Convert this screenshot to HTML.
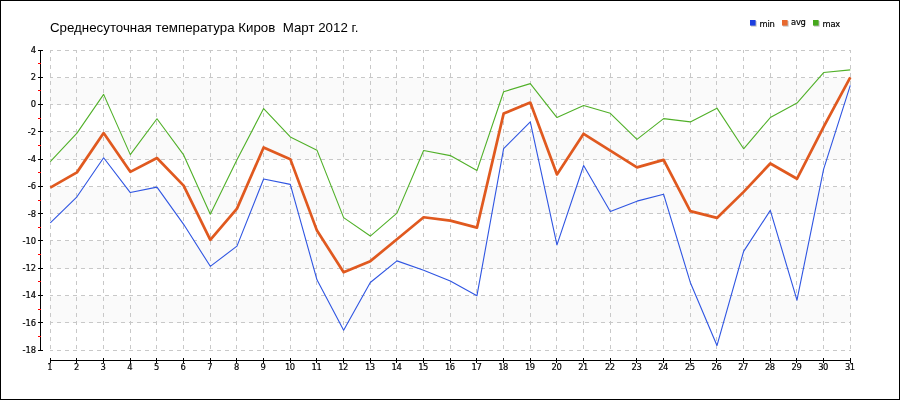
<!DOCTYPE html>
<html lang="ru"><head><meta charset="utf-8"><title>Среднесуточная температура Киров Март 2012 г.</title>
<style>
html,body{margin:0;padding:0;background:#fff;}
body{width:900px;height:400px;overflow:hidden;}
svg{display:block;}
.ax{font-family:"DejaVu Sans Condensed","Liberation Sans",sans-serif;font-size:9.3px;fill:#000;stroke:#000;stroke-width:0.18px;}
.lg{letter-spacing:-0.25px;}
.xl{letter-spacing:-0.5px;}
.ttl{font-family:"Liberation Sans",sans-serif;font-size:13.3px;fill:#000;}
</style></head><body>
<svg width="900" height="400" viewBox="0 0 900 400">
<rect x="0" y="0" width="900" height="400" fill="#fff"/>
<rect x="0.5" y="0.5" width="899" height="399" fill="none" stroke="#000" stroke-width="1" shape-rendering="crispEdges"/>
<text class="ttl" x="50" y="32.3" xml:space="preserve">Среднесуточная температура Киров  Март 2012 г.</text>
<g shape-rendering="crispEdges">
<rect x="50" y="78" width="801" height="27" fill="#fafafa"/>
<rect x="50" y="132" width="801" height="28" fill="#fafafa"/>
<rect x="50" y="187" width="801" height="27" fill="#fafafa"/>
<rect x="50" y="241" width="801" height="28" fill="#fafafa"/>
<rect x="50" y="296" width="801" height="27" fill="#fafafa"/>
<line x1="50" y1="50.5" x2="851" y2="50.5" stroke="#c8c8c8" stroke-width="1" stroke-dasharray="4 4" stroke-dashoffset="1"/>
<line x1="50" y1="77.5" x2="851" y2="77.5" stroke="#c8c8c8" stroke-width="1" stroke-dasharray="4 4" stroke-dashoffset="1"/>
<line x1="50" y1="104.5" x2="851" y2="104.5" stroke="#c8c8c8" stroke-width="1" stroke-dasharray="4 4" stroke-dashoffset="1"/>
<line x1="50" y1="131.5" x2="851" y2="131.5" stroke="#c8c8c8" stroke-width="1" stroke-dasharray="4 4" stroke-dashoffset="1"/>
<line x1="50" y1="159.5" x2="851" y2="159.5" stroke="#c8c8c8" stroke-width="1" stroke-dasharray="4 4" stroke-dashoffset="1"/>
<line x1="50" y1="186.5" x2="851" y2="186.5" stroke="#c8c8c8" stroke-width="1" stroke-dasharray="4 4" stroke-dashoffset="1"/>
<line x1="50" y1="213.5" x2="851" y2="213.5" stroke="#c8c8c8" stroke-width="1" stroke-dasharray="4 4" stroke-dashoffset="1"/>
<line x1="50" y1="240.5" x2="851" y2="240.5" stroke="#c8c8c8" stroke-width="1" stroke-dasharray="4 4" stroke-dashoffset="1"/>
<line x1="50" y1="268.5" x2="851" y2="268.5" stroke="#c8c8c8" stroke-width="1" stroke-dasharray="4 4" stroke-dashoffset="1"/>
<line x1="50" y1="295.5" x2="851" y2="295.5" stroke="#c8c8c8" stroke-width="1" stroke-dasharray="4 4" stroke-dashoffset="1"/>
<line x1="50" y1="322.5" x2="851" y2="322.5" stroke="#c8c8c8" stroke-width="1" stroke-dasharray="4 4" stroke-dashoffset="1"/>
<line x1="50" y1="350.5" x2="851" y2="350.5" stroke="#c8c8c8" stroke-width="1" stroke-dasharray="4 4" stroke-dashoffset="1"/>
<line x1="50.5" y1="50" x2="50.5" y2="351" stroke="#c8c8c8" stroke-width="1" stroke-dasharray="4 4" stroke-dashoffset="1"/>
<line x1="76.5" y1="50" x2="76.5" y2="351" stroke="#c8c8c8" stroke-width="1" stroke-dasharray="4 4" stroke-dashoffset="1"/>
<line x1="103.5" y1="50" x2="103.5" y2="351" stroke="#c8c8c8" stroke-width="1" stroke-dasharray="4 4" stroke-dashoffset="1"/>
<line x1="130.5" y1="50" x2="130.5" y2="351" stroke="#c8c8c8" stroke-width="1" stroke-dasharray="4 4" stroke-dashoffset="1"/>
<line x1="156.5" y1="50" x2="156.5" y2="351" stroke="#c8c8c8" stroke-width="1" stroke-dasharray="4 4" stroke-dashoffset="1"/>
<line x1="183.5" y1="50" x2="183.5" y2="351" stroke="#c8c8c8" stroke-width="1" stroke-dasharray="4 4" stroke-dashoffset="1"/>
<line x1="210.5" y1="50" x2="210.5" y2="351" stroke="#c8c8c8" stroke-width="1" stroke-dasharray="4 4" stroke-dashoffset="1"/>
<line x1="236.5" y1="50" x2="236.5" y2="351" stroke="#c8c8c8" stroke-width="1" stroke-dasharray="4 4" stroke-dashoffset="1"/>
<line x1="263.5" y1="50" x2="263.5" y2="351" stroke="#c8c8c8" stroke-width="1" stroke-dasharray="4 4" stroke-dashoffset="1"/>
<line x1="290.5" y1="50" x2="290.5" y2="351" stroke="#c8c8c8" stroke-width="1" stroke-dasharray="4 4" stroke-dashoffset="1"/>
<line x1="316.5" y1="50" x2="316.5" y2="351" stroke="#c8c8c8" stroke-width="1" stroke-dasharray="4 4" stroke-dashoffset="1"/>
<line x1="343.5" y1="50" x2="343.5" y2="351" stroke="#c8c8c8" stroke-width="1" stroke-dasharray="4 4" stroke-dashoffset="1"/>
<line x1="370.5" y1="50" x2="370.5" y2="351" stroke="#c8c8c8" stroke-width="1" stroke-dasharray="4 4" stroke-dashoffset="1"/>
<line x1="396.5" y1="50" x2="396.5" y2="351" stroke="#c8c8c8" stroke-width="1" stroke-dasharray="4 4" stroke-dashoffset="1"/>
<line x1="423.5" y1="50" x2="423.5" y2="351" stroke="#c8c8c8" stroke-width="1" stroke-dasharray="4 4" stroke-dashoffset="1"/>
<line x1="450.5" y1="50" x2="450.5" y2="351" stroke="#c8c8c8" stroke-width="1" stroke-dasharray="4 4" stroke-dashoffset="1"/>
<line x1="476.5" y1="50" x2="476.5" y2="351" stroke="#c8c8c8" stroke-width="1" stroke-dasharray="4 4" stroke-dashoffset="1"/>
<line x1="503.5" y1="50" x2="503.5" y2="351" stroke="#c8c8c8" stroke-width="1" stroke-dasharray="4 4" stroke-dashoffset="1"/>
<line x1="530.5" y1="50" x2="530.5" y2="351" stroke="#c8c8c8" stroke-width="1" stroke-dasharray="4 4" stroke-dashoffset="1"/>
<line x1="556.5" y1="50" x2="556.5" y2="351" stroke="#c8c8c8" stroke-width="1" stroke-dasharray="4 4" stroke-dashoffset="1"/>
<line x1="583.5" y1="50" x2="583.5" y2="351" stroke="#c8c8c8" stroke-width="1" stroke-dasharray="4 4" stroke-dashoffset="1"/>
<line x1="610.5" y1="50" x2="610.5" y2="351" stroke="#c8c8c8" stroke-width="1" stroke-dasharray="4 4" stroke-dashoffset="1"/>
<line x1="636.5" y1="50" x2="636.5" y2="351" stroke="#c8c8c8" stroke-width="1" stroke-dasharray="4 4" stroke-dashoffset="1"/>
<line x1="663.5" y1="50" x2="663.5" y2="351" stroke="#c8c8c8" stroke-width="1" stroke-dasharray="4 4" stroke-dashoffset="1"/>
<line x1="690.5" y1="50" x2="690.5" y2="351" stroke="#c8c8c8" stroke-width="1" stroke-dasharray="4 4" stroke-dashoffset="1"/>
<line x1="716.5" y1="50" x2="716.5" y2="351" stroke="#c8c8c8" stroke-width="1" stroke-dasharray="4 4" stroke-dashoffset="1"/>
<line x1="743.5" y1="50" x2="743.5" y2="351" stroke="#c8c8c8" stroke-width="1" stroke-dasharray="4 4" stroke-dashoffset="1"/>
<line x1="770.5" y1="50" x2="770.5" y2="351" stroke="#c8c8c8" stroke-width="1" stroke-dasharray="4 4" stroke-dashoffset="1"/>
<line x1="796.5" y1="50" x2="796.5" y2="351" stroke="#c8c8c8" stroke-width="1" stroke-dasharray="4 4" stroke-dashoffset="1"/>
<line x1="823.5" y1="50" x2="823.5" y2="351" stroke="#c8c8c8" stroke-width="1" stroke-dasharray="4 4" stroke-dashoffset="1"/>
<line x1="850.5" y1="50" x2="850.5" y2="351" stroke="#c8c8c8" stroke-width="1" stroke-dasharray="4 4" stroke-dashoffset="1"/>
<line x1="40.5" y1="50" x2="40.5" y2="351" stroke="#000"/>
<line x1="50" y1="360.5" x2="851" y2="360.5" stroke="#000"/>
<line x1="38" y1="50.5" x2="43" y2="50.5" stroke="#000"/>
<line x1="38" y1="63.5" x2="41" y2="63.5" stroke="#f00"/>
<line x1="38" y1="77.5" x2="43" y2="77.5" stroke="#000"/>
<line x1="38" y1="90.5" x2="41" y2="90.5" stroke="#f00"/>
<line x1="38" y1="104.5" x2="43" y2="104.5" stroke="#000"/>
<line x1="38" y1="118.5" x2="41" y2="118.5" stroke="#f00"/>
<line x1="38" y1="131.5" x2="43" y2="131.5" stroke="#000"/>
<line x1="38" y1="145.5" x2="41" y2="145.5" stroke="#f00"/>
<line x1="38" y1="159.5" x2="43" y2="159.5" stroke="#000"/>
<line x1="38" y1="172.5" x2="41" y2="172.5" stroke="#f00"/>
<line x1="38" y1="186.5" x2="43" y2="186.5" stroke="#000"/>
<line x1="38" y1="200.5" x2="41" y2="200.5" stroke="#f00"/>
<line x1="38" y1="213.5" x2="43" y2="213.5" stroke="#000"/>
<line x1="38" y1="227.5" x2="41" y2="227.5" stroke="#f00"/>
<line x1="38" y1="240.5" x2="43" y2="240.5" stroke="#000"/>
<line x1="38" y1="254.5" x2="41" y2="254.5" stroke="#f00"/>
<line x1="38" y1="268.5" x2="43" y2="268.5" stroke="#000"/>
<line x1="38" y1="281.5" x2="41" y2="281.5" stroke="#f00"/>
<line x1="38" y1="295.5" x2="43" y2="295.5" stroke="#000"/>
<line x1="38" y1="309.5" x2="41" y2="309.5" stroke="#f00"/>
<line x1="38" y1="322.5" x2="43" y2="322.5" stroke="#000"/>
<line x1="38" y1="336.5" x2="41" y2="336.5" stroke="#f00"/>
<line x1="38" y1="350.5" x2="43" y2="350.5" stroke="#000"/>
<line x1="50.5" y1="358" x2="50.5" y2="363" stroke="#000"/>
<line x1="76.5" y1="358" x2="76.5" y2="363" stroke="#000"/>
<line x1="103.5" y1="358" x2="103.5" y2="363" stroke="#000"/>
<line x1="130.5" y1="358" x2="130.5" y2="363" stroke="#000"/>
<line x1="156.5" y1="358" x2="156.5" y2="363" stroke="#000"/>
<line x1="183.5" y1="358" x2="183.5" y2="363" stroke="#000"/>
<line x1="210.5" y1="358" x2="210.5" y2="363" stroke="#000"/>
<line x1="236.5" y1="358" x2="236.5" y2="363" stroke="#000"/>
<line x1="263.5" y1="358" x2="263.5" y2="363" stroke="#000"/>
<line x1="290.5" y1="358" x2="290.5" y2="363" stroke="#000"/>
<line x1="316.5" y1="358" x2="316.5" y2="363" stroke="#000"/>
<line x1="343.5" y1="358" x2="343.5" y2="363" stroke="#000"/>
<line x1="370.5" y1="358" x2="370.5" y2="363" stroke="#000"/>
<line x1="396.5" y1="358" x2="396.5" y2="363" stroke="#000"/>
<line x1="423.5" y1="358" x2="423.5" y2="363" stroke="#000"/>
<line x1="450.5" y1="358" x2="450.5" y2="363" stroke="#000"/>
<line x1="476.5" y1="358" x2="476.5" y2="363" stroke="#000"/>
<line x1="503.5" y1="358" x2="503.5" y2="363" stroke="#000"/>
<line x1="530.5" y1="358" x2="530.5" y2="363" stroke="#000"/>
<line x1="556.5" y1="358" x2="556.5" y2="363" stroke="#000"/>
<line x1="583.5" y1="358" x2="583.5" y2="363" stroke="#000"/>
<line x1="610.5" y1="358" x2="610.5" y2="363" stroke="#000"/>
<line x1="636.5" y1="358" x2="636.5" y2="363" stroke="#000"/>
<line x1="663.5" y1="358" x2="663.5" y2="363" stroke="#000"/>
<line x1="690.5" y1="358" x2="690.5" y2="363" stroke="#000"/>
<line x1="716.5" y1="358" x2="716.5" y2="363" stroke="#000"/>
<line x1="743.5" y1="358" x2="743.5" y2="363" stroke="#000"/>
<line x1="770.5" y1="358" x2="770.5" y2="363" stroke="#000"/>
<line x1="796.5" y1="358" x2="796.5" y2="363" stroke="#000"/>
<line x1="823.5" y1="358" x2="823.5" y2="363" stroke="#000"/>
<line x1="850.5" y1="358" x2="850.5" y2="363" stroke="#000"/>
</g>
<text class="ax" x="36.2" y="52.9" text-anchor="end">4</text>
<text class="ax" x="36.2" y="80.2" text-anchor="end">2</text>
<text class="ax" x="36.2" y="107.4" text-anchor="end">0</text>
<text class="ax" x="36.2" y="134.7" text-anchor="end">-2</text>
<text class="ax" x="36.2" y="162.0" text-anchor="end">-4</text>
<text class="ax" x="36.2" y="189.3" text-anchor="end">-6</text>
<text class="ax" x="36.2" y="216.5" text-anchor="end">-8</text>
<text class="ax" x="36.2" y="243.8" text-anchor="end">-10</text>
<text class="ax" x="36.2" y="271.1" text-anchor="end">-12</text>
<text class="ax" x="36.2" y="298.4" text-anchor="end">-14</text>
<text class="ax" x="36.2" y="325.6" text-anchor="end">-16</text>
<text class="ax" x="36.2" y="352.9" text-anchor="end">-18</text>
<text class="ax xl" x="49.7" y="369.7" text-anchor="middle">1</text>
<text class="ax xl" x="76.4" y="369.7" text-anchor="middle">2</text>
<text class="ax xl" x="103.0" y="369.7" text-anchor="middle">3</text>
<text class="ax xl" x="129.7" y="369.7" text-anchor="middle">4</text>
<text class="ax xl" x="156.4" y="369.7" text-anchor="middle">5</text>
<text class="ax xl" x="183.0" y="369.7" text-anchor="middle">6</text>
<text class="ax xl" x="209.7" y="369.7" text-anchor="middle">7</text>
<text class="ax xl" x="236.4" y="369.7" text-anchor="middle">8</text>
<text class="ax xl" x="263.0" y="369.7" text-anchor="middle">9</text>
<text class="ax xl" x="289.7" y="369.7" text-anchor="middle">10</text>
<text class="ax xl" x="316.4" y="369.7" text-anchor="middle">11</text>
<text class="ax xl" x="343.0" y="369.7" text-anchor="middle">12</text>
<text class="ax xl" x="369.7" y="369.7" text-anchor="middle">13</text>
<text class="ax xl" x="396.4" y="369.7" text-anchor="middle">14</text>
<text class="ax xl" x="423.0" y="369.7" text-anchor="middle">15</text>
<text class="ax xl" x="449.7" y="369.7" text-anchor="middle">16</text>
<text class="ax xl" x="476.4" y="369.7" text-anchor="middle">17</text>
<text class="ax xl" x="503.0" y="369.7" text-anchor="middle">18</text>
<text class="ax xl" x="529.7" y="369.7" text-anchor="middle">19</text>
<text class="ax xl" x="556.4" y="369.7" text-anchor="middle">20</text>
<text class="ax xl" x="583.0" y="369.7" text-anchor="middle">21</text>
<text class="ax xl" x="609.7" y="369.7" text-anchor="middle">22</text>
<text class="ax xl" x="636.4" y="369.7" text-anchor="middle">23</text>
<text class="ax xl" x="663.0" y="369.7" text-anchor="middle">24</text>
<text class="ax xl" x="689.7" y="369.7" text-anchor="middle">25</text>
<text class="ax xl" x="716.4" y="369.7" text-anchor="middle">26</text>
<text class="ax xl" x="743.0" y="369.7" text-anchor="middle">27</text>
<text class="ax xl" x="769.7" y="369.7" text-anchor="middle">28</text>
<text class="ax xl" x="796.4" y="369.7" text-anchor="middle">29</text>
<text class="ax xl" x="823.0" y="369.7" text-anchor="middle">30</text>
<text class="ax xl" x="849.7" y="369.7" text-anchor="middle">31</text>
<g fill="none" stroke-linejoin="round" stroke-linecap="butt" transform="translate(0.3,0.6)">
<polyline points="50.00,222.23 76.67,196.18 103.33,157.18 130.00,191.95 156.67,186.50 183.33,223.73 210.00,265.73 236.67,245.55 263.33,178.45 290.00,183.77 316.67,279.23 343.33,329.55 370.00,281.95 396.67,260.27 423.33,269.55 450.00,280.45 476.67,295.05 503.33,148.05 530.00,121.32 556.67,244.32 583.33,164.95 610.00,210.91 636.67,200.55 663.33,193.73 690.00,281.82 716.67,344.95 743.33,250.73 770.00,209.82 796.67,299.55 823.33,168.50 850.00,84.77" stroke="#2f55e2" stroke-width="1.1"/>
<polyline points="50.00,187.05 76.67,171.77 103.33,132.50 130.00,171.23 156.67,157.45 183.33,185.00 210.00,239.27 236.67,208.05 263.33,146.82 290.00,158.55 316.67,230.00 343.33,271.59 370.00,260.55 396.67,238.73 423.33,216.64 450.00,220.05 476.67,227.00 503.33,113.00 530.00,101.95 556.67,173.82 583.33,133.18 610.00,149.95 636.67,166.73 663.33,159.23 690.00,210.50 716.67,217.32 743.33,191.27 770.00,162.91 796.67,178.18 823.33,126.36 850.00,76.73" stroke="#e0591f" stroke-width="2.7"/>
<polyline points="50.00,161.14 76.67,132.50 103.33,93.77 130.00,154.05 156.67,118.18 183.33,154.32 210.00,213.64 236.67,159.09 263.33,107.95 290.00,136.32 316.67,149.55 343.33,217.05 370.00,235.45 396.67,212.55 423.33,149.95 450.00,155.00 476.67,170.00 503.33,91.18 530.00,83.00 556.67,116.95 583.33,104.95 610.00,112.73 636.67,138.77 663.33,118.05 690.00,121.32 716.67,107.55 743.33,148.18 770.00,116.95 796.67,102.50 823.33,71.95 850.00,69.23" stroke="#50b028" stroke-width="1.1"/>
</g>
<rect x="751" y="21" width="5.6" height="5.6" fill="#000" fill-opacity="0.25"/><rect x="750" y="20" width="5.6" height="5.6" fill="#1d3fe0"/>
<text class="ax lg" x="759.5" y="26.7">min</text>
<rect x="783" y="21" width="5.6" height="5.6" fill="#000" fill-opacity="0.25"/><rect x="782" y="20" width="5.6" height="5.6" fill="#e8692f"/>
<text class="ax lg" x="791" y="24.5">avg</text>
<rect x="814" y="21" width="5.6" height="5.6" fill="#000" fill-opacity="0.25"/><rect x="813" y="20" width="5.6" height="5.6" fill="#46a81c"/>
<text class="ax lg" x="822.5" y="26.7">max</text>
</svg>
</body></html>
